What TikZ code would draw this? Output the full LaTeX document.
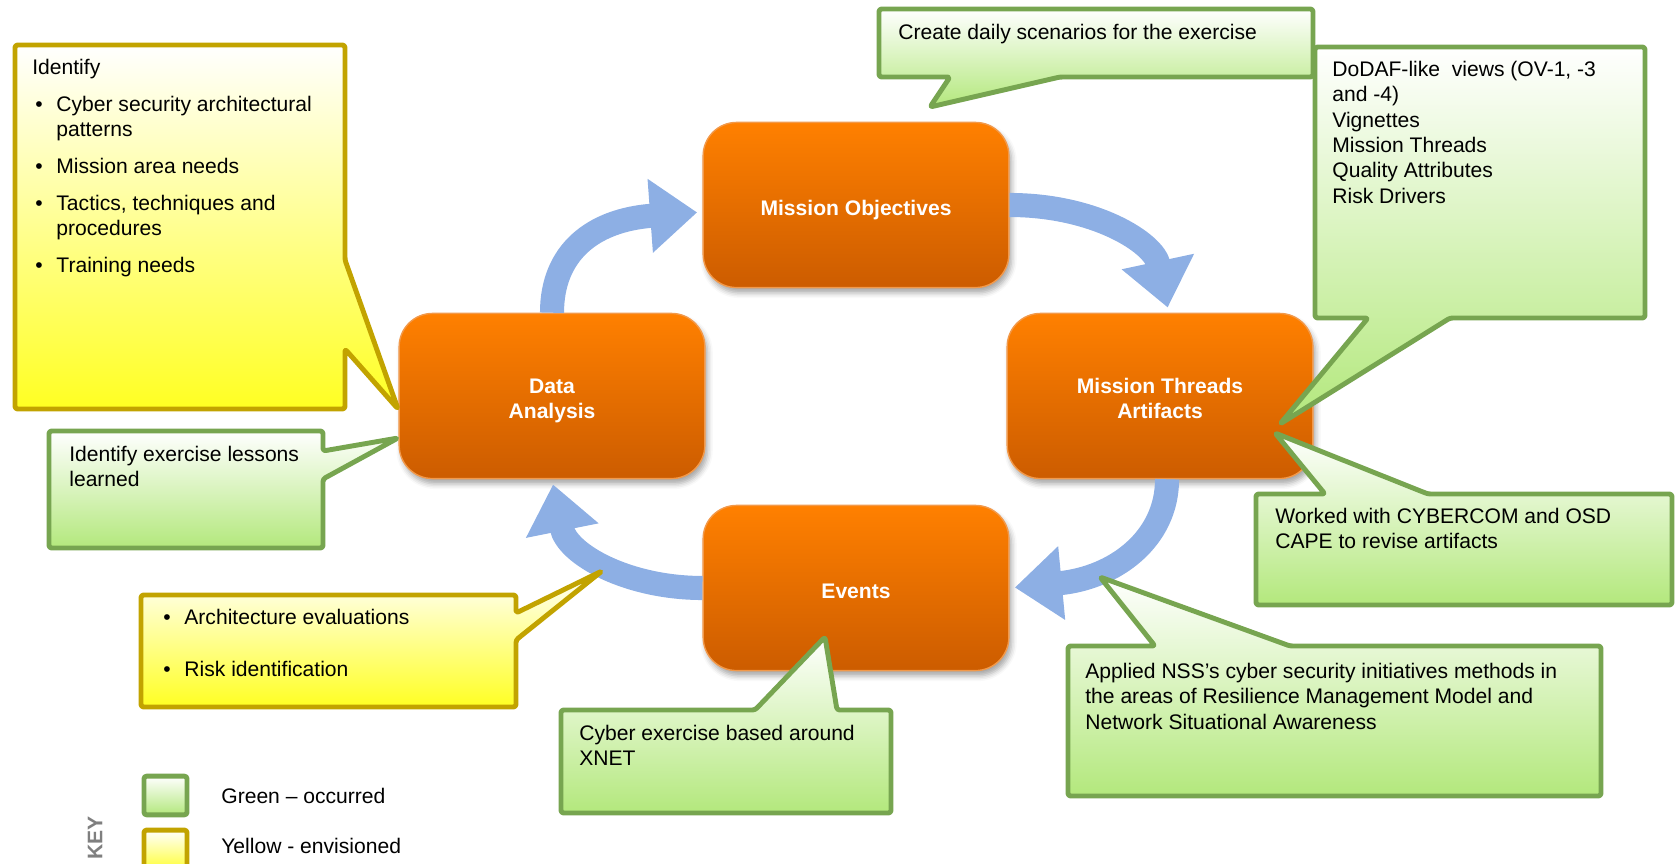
\documentclass[tikz,border=0pt]{standalone}
\usepackage{fontspec}
\setmainfont{Liberation Sans}
\usepackage{tikz}
\usetikzlibrary{arrows.meta, shadows.blur}
\usepackage{xcolor}
\definecolor{stepbright}{HTML}{FF8000}
\definecolor{stepdark}{HTML}{CC5C00}
\definecolor{stepedge}{HTML}{F2994A}
\definecolor{loopblue}{HTML}{8DAFE4}
\definecolor{doneline}{HTML}{77A550}
\definecolor{donefill}{HTML}{B3E87C}
\definecolor{planline}{HTML}{C2A300}
\definecolor{planfill}{HTML}{FFFF22}
\definecolor{keygrey}{HTML}{7F7F7F}
\newcommand{\notefont}{\fontsize{12pt}{14.4pt}\selectfont}
\newcommand{\itembullet}{\hspace*{1.7pt}\makebox[12pt][l]{\textbullet}}
\newcommand{\bulletgap}{\hspace*{13.7pt}}
\newcommand{\steptop}{\rule{0pt}{14pt}}
\tikzset{
  stepbox/.style={rectangle, draw=stepedge, line width=0.8pt,
                  top color=stepbright, bottom color=stepdark,
                  rounded corners=19pt, minimum width=174pt, minimum height=94pt,
                  align=center, text=white, font=\notefont\bfseries,
                  execute at begin node=\steptop,
                  execute at end node={\rule[-2.6pt]{0pt}{2.6pt}},
                  blur shadow={shadow xshift=1.5pt, shadow yshift=-3pt,
                               shadow blur radius=3pt, shadow opacity=35}},
  cyclearrow/.style={->, line width=13.7pt, draw=loopblue, shorten >=3pt,
                     >={Triangle[length=26.8pt,width=40.4pt]}},
  % --- callout styles ---
  donenote/.style={draw=doneline, line width=2.8pt, rounded corners=1.5pt,
                   line join=round, top color=white, bottom color=donefill},
  plannote/.style={draw=planline, line width=2.8pt, rounded corners=1.5pt,
                   line join=round, top color=white, bottom color=planfill},
  notetext/.style={anchor=north west, inner sep=0pt, align=left, font=\notefont,
                   execute at begin node=\strut},
  keytext/.style={anchor=base west, inner sep=0pt, font=\notefont},
}

\begin{document}
\begin{tikzpicture}[x=0.02cm, y=-0.02cm]
  \useasboundingbox (0,0) rectangle (1675,864);

  \node[stepbox] (obj)    at (856,205)  {Mission Objectives};
  \node[stepbox] (data)   at (552,396)  {\steptop Data\\Analysis};
  \node[stepbox] (thread) at (1160,396) {\steptop Mission Threads\\Artifacts};
  \node[stepbox] (events) at (856,588)  {Events};

  \draw[cyclearrow] (data.north) .. controls +(0,-60) and +(-110,8) .. ([yshift=-4pt]obj.west);
  \draw[cyclearrow] (obj.east) .. controls +(85,0) and +(-15,-70) .. ([xshift=5pt]thread.north);
  \draw[cyclearrow] ([xshift=4pt]thread.south) .. controls +(0,60) and +(105,-10) .. (events.east);
  \draw[cyclearrow] (events.west) .. controls +(-75,0) and +(15,75) .. (data.south);

  \draw[plannote] (15,45) -- (345,45) -- (345,260) -- (398,409) -- (345,349)
    -- (345,409) -- (15,409) -- cycle;
  \node[notetext] (identify) at (32,59) {Identify\\[6.5pt]
    \itembullet Cyber security architectural\\
    \bulletgap patterns\\[6.5pt]
    \itembullet Mission area needs\\[6.5pt]
    \itembullet Tactics, techniques and\\
    \bulletgap procedures\\[6.5pt]
    \itembullet Training needs};

  \draw[donenote] (49,431) -- (323,431) -- (323,451) -- (398,438) -- (323,479)
    -- (323,548) -- (49,548) -- cycle;
  \node[notetext] (lessons) at (69,446) {Identify exercise lessons\\learned};

  \draw[donenote] (879,9) -- (1313,9) -- (1313,77) -- (1060,77) -- (930,107)
    -- (950,77) -- (879,77) -- cycle;
  \node[notetext] (daily) at (898,21) {Create daily scenarios for the exercise};

  \draw[donenote] (1315,47) -- (1645,47) -- (1645,318) -- (1450,318) -- (1280,424)
    -- (1368,318) -- (1315,318) -- cycle;
  \node[notetext] (views) at (1332,61) {DoDAF-like~ views (OV-1, -3\\and -4)\\Vignettes\\Mission Threads\\Quality Attributes\\Risk Drivers};

  \draw[donenote] (1256,494) -- (1325,494) -- (1275,433) -- (1428,494) -- (1672,494)
    -- (1672,605) -- (1256,605) -- cycle;
  \node[notetext] (cybercom) at (1275,508) {Worked with CYBERCOM and OSD\\CAPE to revise artifacts};

  \draw[donenote] (1068,646) -- (1155,646) -- (1100,577) -- (1290,646) -- (1601,646)
    -- (1601,796) -- (1068,796) -- cycle;
  \node[notetext] (nss) at (1085,663) {Applied NSS’s cyber security initiatives methods in\\the areas of Resilience Management Model and\\Network Situational Awareness};

  \draw[donenote] (561,710) -- (755,710) -- (825,637) -- (837,710) -- (891,710)
    -- (891,813) -- (561,813) -- cycle;
  \node[notetext] (xnet) at (579,725) {Cyber exercise based around\\XNET};

  \draw[plannote] (141,595) -- (516,595) -- (516,613) -- (602,571) -- (516,640)
    -- (516,707) -- (141,707) -- cycle;
  \node[notetext] (evals) at (160,609) {\itembullet Architecture evaluations\\[15.2pt]
    \itembullet Risk identification};

  \node[donenote, minimum width=24.5pt, minimum height=22pt] (donekey) at (165.5,795.5) {};
  \node[plannote, minimum width=24.5pt, minimum height=25pt] (plankey) at (165.5,852) {};
  \node[keytext] (donelabel) at (221,803) {Green – occurred};
  \node[keytext] (planlabel) at (221,853) {Yellow - envisioned};
  \node[font=\notefont\bfseries, text=keygrey, rotate=90] (key) at (95,838) {KEY};
\end{tikzpicture}
\end{document}
